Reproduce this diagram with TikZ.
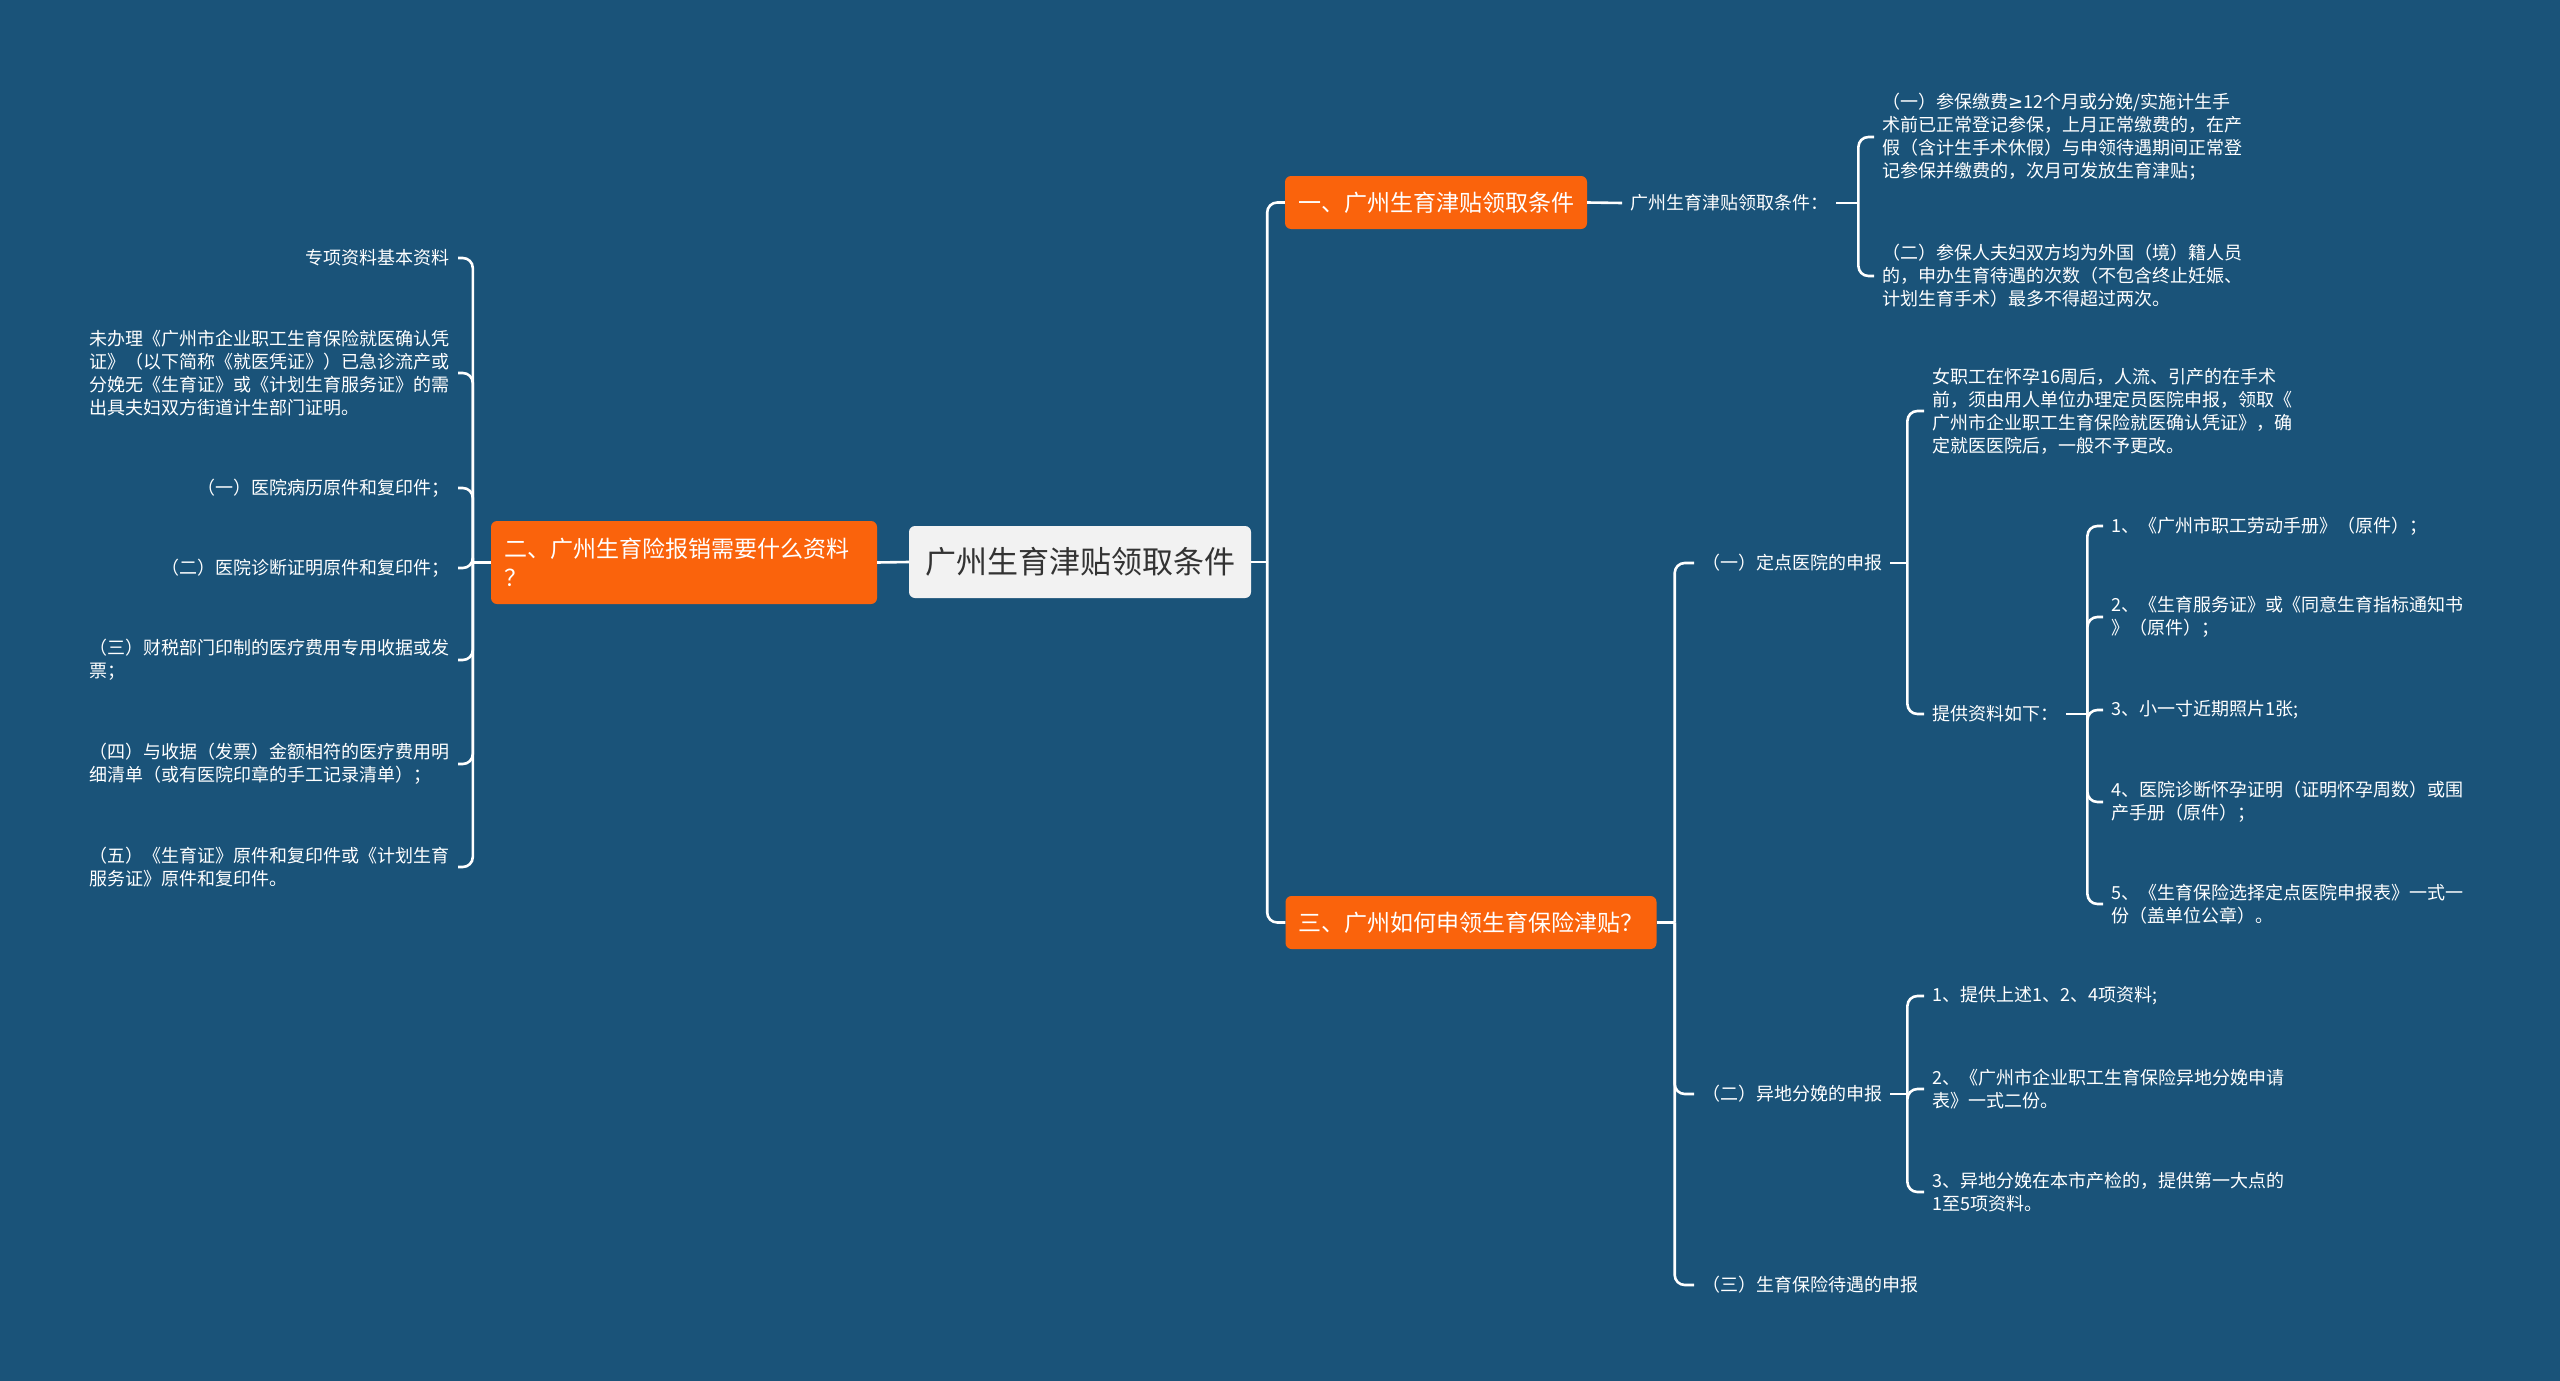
\documentclass[tikz,border=0pt]{standalone}
\usepackage{fontspec}
\setmainfont{Noto Sans CJK SC}
\newfontfamily\symfont{DejaVu Sans}
\definecolor{bgblue}{HTML}{1A5379}
\definecolor{topicorange}{HTML}{FA630C}
\definecolor{rootgray}{HTML}{F2F2F2}
\begin{document}
\begin{tikzpicture}[x=1pt, y=-1pt,
    link/.style={draw=white, line width=2.6pt, rounded corners=10pt},
    root/.style={fill=rootgray, rounded corners=6pt, text=black!80, font=\fontsize{31}{36}\selectfont, minimum width=342pt, minimum height=72pt},
    topic/.style={fill=topicorange, rounded corners=6pt, text=white, font=\fontsize{23}{29}\selectfont, minimum height=53pt, inner xsep=13pt},
    leaf/.style={text=white, font=\fontsize{18}{23}\selectfont, align=left, inner xsep=8pt, inner ysep=2pt}]
    \useasboundingbox (0,0) rectangle (2560,1381);
    \fill[bgblue] (0,0) rectangle (2560,1381);
    \node[root] (root) at (1080,562) {广州生育津贴领取条件};
    \node[topic] (b1) at (1436,202.5) {一、广州生育津贴领取条件};
    \node[topic, minimum height=83pt, text width=360pt, align=left] (b2) at (684,562.5) {二、广州生育险报销需要什么资料\\？};
    \node[topic] (b3) at (1471,922.5) {三、广州如何申领生育保险津贴？};
    \draw[link] (root.west) -- (b2.east);
    \draw[link] (root.east) -- ++(16,0) coordinate (s0);
    \foreach \n in {b1,b3} \draw[link] (s0) |- (\n.west);

    \node[leaf, anchor=east] (l1) at (458,258) {专项资料基本资料};
    \node[leaf, anchor=east] (l2) at (458,373) {未办理《广州市企业职工生育保险就医确认凭\\证》（以下简称《就医凭证》）已急诊流产或\\分娩无《生育证》或《计划生育服务证》的需\\出具夫妇双方街道计生部门证明。};
    \node[leaf, anchor=east] (l3) at (458,488) {（一）医院病历原件和复印件；};
    \node[leaf, anchor=east] (l4) at (458,568) {（二）医院诊断证明原件和复印件；};
    \node[leaf, anchor=east] (l5) at (458,660) {（三）财税部门印制的医疗费用专用收据或发\\票；};
    \node[leaf, anchor=east] (l6) at (458,764) {（四）与收据（发票）金额相符的医疗费用明\\细清单（或有医院印章的手工记录清单）；};
    \node[leaf, anchor=east] (l7) at (458,867) {（五）《生育证》原件和复印件或《计划生育\\服务证》原件和复印件。};
    \draw[link] (b2.west) -- ++(-18,0) coordinate (s2);
    \foreach \n in {l1,l2,l3,l4,l5,l6,l7} \draw[link] (s2) |- (\n.east);

    \node[leaf, anchor=west] (cond) at (1622,203) {广州生育津贴领取条件：};
    \draw[link] (b1.east) -- (cond.west);
    \node[leaf, anchor=west] (c11) at (1874,137) {（一）参保缴费{\symfont ≥}12个月或分娩/实施计生手\\术前已正常登记参保，上月正常缴费的，在产\\假（含计生手术休假）与申领待遇期间正常登\\记参保并缴费的，次月可发放生育津贴；};
    \node[leaf, anchor=west] (c12) at (1874,276) {（二）参保人夫妇双方均为外国（境）籍人员\\的，申办生育待遇的次数（不包含终止妊娠、\\计划生育手术）最多不得超过两次。};
    \draw[link] (cond.east) -- ++(22,0) coordinate (s1);
    \foreach \n in {c11,c12} \draw[link] (s1) |- (\n.west);

    \node[leaf, anchor=west] (c31) at (1694,563) {（一）定点医院的申报};
    \node[leaf, anchor=west] (c32) at (1694,1094) {（二）异地分娩的申报};
    \node[leaf, anchor=west] (c33) at (1694,1285) {（三）生育保险待遇的申报};
    \draw[link] (b3.east) -- ++(18,0) coordinate (s3);
    \foreach \n in {c31,c32,c33} \draw[link] (s3) |- (\n.west);

    \node[leaf, anchor=west] (c311) at (1924,411) {女职工在怀孕16周后，人流、引产的在手术\\前，须由用人单位办理定员医院申报，领取《\\广州市企业职工生育保险就医确认凭证》，确\\定就医医院后，一般不予更改。};
    \node[leaf, anchor=west] (c312) at (1924,714) {提供资料如下：};
    \draw[link] (c31.east) -- ++(17,0) coordinate (s31);
    \foreach \n in {c311,c312} \draw[link] (s31) |- (\n.west);

    \node[leaf, anchor=west] (d1) at (2103,526) {1、《广州市职工劳动手册》（原件）；};
    \node[leaf, anchor=west] (d2) at (2103,617) {2、《生育服务证》或《同意生育指标通知书\\》（原件）；};
    \node[leaf, anchor=west] (d3) at (2103,710) {3、小一寸近期照片1张;};
    \node[leaf, anchor=west] (d4) at (2103,802) {4、医院诊断怀孕证明（证明怀孕周数）或围\\产手册（原件）；};
    \node[leaf, anchor=west] (d5) at (2103,904) {5、《生育保险选择定点医院申报表》一式一\\份（盖单位公章）。};
    \draw[link] (c312.east) -- ++(21,0) coordinate (s312);
    \foreach \n in {d1,d2,d3,d4,d5} \draw[link] (s312) |- (\n.west);

    \node[leaf, anchor=west] (e1) at (1924,996) {1、提供上述1、2、4项资料;};
    \node[leaf, anchor=west] (e2) at (1924,1089) {2、《广州市企业职工生育保险异地分娩申请\\表》一式二份。};
    \node[leaf, anchor=west] (e3) at (1924,1192) {3、异地分娩在本市产检的，提供第一大点的\\1至5项资料。};
    \draw[link] (c32.east) -- ++(17,0) coordinate (s32);
    \foreach \n in {e1,e2,e3} \draw[link] (s32) |- (\n.west);
\end{tikzpicture}
\end{document}
